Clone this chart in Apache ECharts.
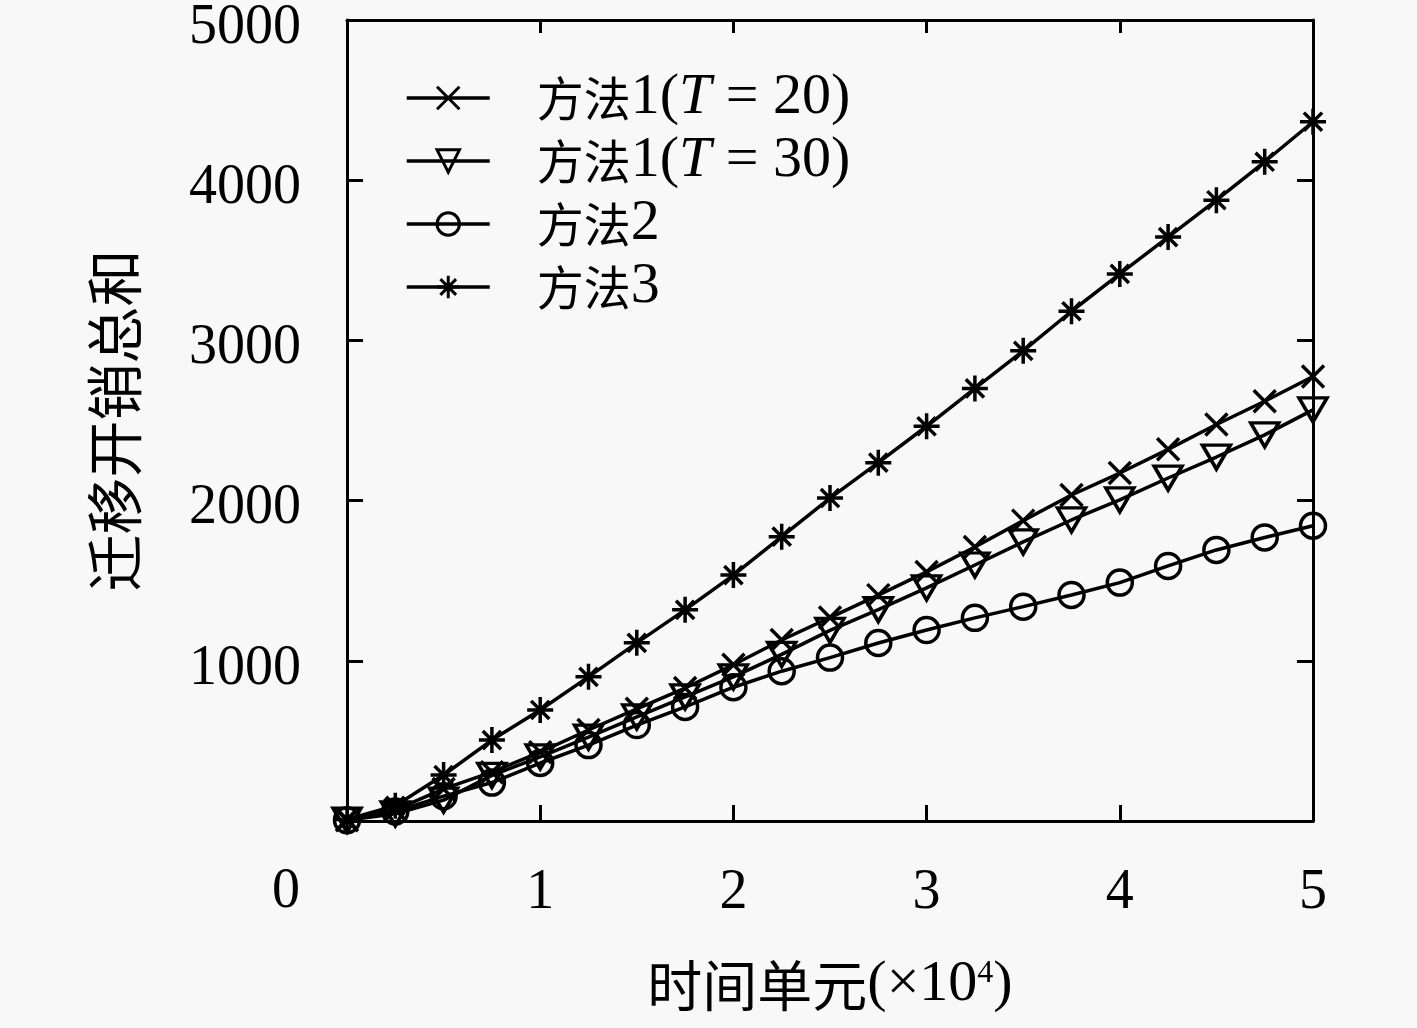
<!DOCTYPE html>
<html>
<head>
<meta charset="utf-8">
<script src="https://cdn.jsdelivr.net/npm/echarts@6/dist/echarts.min.js"></script>
<style>
  html, body { margin: 0; padding: 0; background: #f8f8f8; }
  #chart { width: 1417px; height: 1028px; }
</style>
</head>
<body>
<div id="chart"></div>
<script>
// x in units of 10^4 time units
const xValues = [0, 0.25, 0.5, 0.75, 1, 1.25, 1.5, 1.75, 2, 2.25, 2.5, 2.75, 3, 3.25, 3.5, 3.75, 4, 4.25, 4.5, 4.75, 5];
const method1T20 = [5, 70, 200, 305, 430, 568, 700, 830, 975, 1130, 1270, 1410, 1555, 1710, 1875, 2035, 2172, 2320, 2475, 2620, 2775];
const method1T30 = [5, 45, 130, 285, 400, 524, 650, 775, 900, 1040, 1190, 1320, 1455, 1598, 1742, 1879, 2004, 2141, 2272, 2410, 2566];
const method2 = [5, 60, 155, 240, 362, 474, 599, 712, 835, 935, 1020, 1111, 1192, 1268, 1338, 1411, 1488, 1592, 1692, 1770, 1843];
const method3 = [10, 95, 287, 505, 693, 900, 1112, 1318, 1535, 1775, 2016, 2237, 2464, 2700, 2935, 3182, 3415, 3645, 3875, 4115, 4365];
const seriesNames = ['方法1(T=20)', '方法1(T=30)', '方法2', '方法3'];

const FONT = "'Liberation Serif', 'Noto Sans CJK SC', serif";
const CJK = "'Noto Sans CJK SC', sans-serif";
const CROSS = 'path://M0,0 L10,10 M10,0 L0,10';
const STAR = 'path://M5,0 L5,10 M0,5 L10,5 M1.5,1.5 L8.5,8.5 M8.5,1.5 L1.5,8.5';
const TRI_DOWN = 'path://M0,0 L10,0 L5,8.7 Z';
const CIRCLE = 'path://M10,5 A5,5 0 1,1 0,5 A5,5 0 1,1 10,5 Z';

const chart = echarts.init(document.getElementById('chart'));

function makeSeries(name, values, symbol, size) {
  return {
    name: name,
    type: 'line',
    data: xValues.map((x, i) => [x, values[i]]),
    symbol: symbol,
    symbolSize: size,
    showAllSymbol: true,
    clip: false,
    lineStyle: { color: '#000', width: 3.5 },
    itemStyle: { color: 'rgba(0,0,0,0)', borderColor: '#000', borderWidth: 3.5 },
    emphasis: { disabled: true }
  };
}

// "方法1(T=20)" -> CJK part, roman digits, italic T
function legendLabel(name) {
  const m = name.match(/^(方法)(\d)(?:\(T=(\d+)\))?$/);
  if (!m) return name;
  let s = '{c|' + m[1] + '}{n|' + m[2] + '}';
  if (m[3]) s += '{n|(}{i|T}{n| = ' + m[3] + ')}';
  return s;
}

const axisLine = { onZero: false, lineStyle: { color: '#000', width: 3 } };
const tick = { inside: true, length: 16, lineStyle: { color: '#000', width: 3 } };

chart.setOption({
  backgroundColor: '#f8f8f8',
  animation: false,
  textStyle: { fontFamily: FONT, color: '#000' },
  grid: { left: 347, right: 104, top: 20, bottom: 207, containLabel: false, outerBoundsMode: 'none' },
  legend: {
    left: 400,
    top: 64,
    orient: 'vertical',
    itemWidth: 83,
    itemHeight: 28,
    itemGap: 5,
    data: seriesNames,
    lineStyle: { width: 3.5, color: '#000' },
    itemStyle: { borderWidth: 3 },
    formatter: legendLabel,
    textStyle: {
      fontFamily: FONT, fontSize: 50, color: '#000', lineHeight: 50,
      padding: [0, 0, 0, 42],
      rich: {
        c: { fontFamily: CJK, fontSize: 47, lineHeight: 50 },
        n: { fontFamily: FONT, fontSize: 58, lineHeight: 50 },
        i: { fontFamily: FONT, fontSize: 58, fontStyle: 'italic', lineHeight: 50 }
      }
    }
  },
  xAxis: [{
    type: 'value', min: 0, max: 5, interval: 1,
    name: '{c|时间单元}{n|(×10}{sup|4}{n|)}',
    nameLocation: 'middle', nameGap: 135,
    nameTextStyle: {
      fontFamily: FONT, fontSize: 54, color: '#000',
      rich: {
        c: { fontFamily: CJK, fontSize: 55 },
        n: { fontFamily: FONT, fontSize: 58 },
        sup: { fontFamily: FONT, fontSize: 32, verticalAlign: 'bottom', padding: [0, 0, 24, 0] }
      }
    },
    axisLine: axisLine,
    axisTick: tick,
    axisLabel: { fontFamily: FONT, fontSize: 56, color: '#000', margin: 44,
      formatter: v => (v === 0 ? '' : String(v)) },
    splitLine: { show: false }
  }, {
    type: 'value', min: 0, max: 5, interval: 1, position: 'top',
    axisLine: axisLine,
    axisTick: Object.assign({}, tick, { length: 13 }),
    axisLabel: { show: false },
    splitLine: { show: false }
  }],
  yAxis: [{
    type: 'value', min: 0, max: 5000, interval: 1000,
    name: '迁移开销总和',
    nameLocation: 'middle', nameGap: 204,
    nameTextStyle: { fontFamily: CJK, fontSize: 57, color: '#000' },
    axisLine: axisLine,
    axisTick: tick,
    axisLabel: { color: '#000', margin: 46,
      formatter: v => (v === 0 ? '' : '{v|' + v + '}'),
      rich: { v: { fontFamily: FONT, fontSize: 56, color: '#000', padding: [16, 0, 0, 0] } } },
    splitLine: { show: false }
  }, {
    type: 'value', min: 0, max: 5000, interval: 1000, position: 'right',
    axisLine: axisLine,
    axisTick: tick,
    axisLabel: { show: false },
    splitLine: { show: false }
  }],
  graphic: [{
    type: 'text', left: 272, top: 864,
    style: { text: '0', font: "56px 'Liberation Serif', serif", fill: '#000' }
  }],
  series: [
    makeSeries(seriesNames[0], method1T20, CROSS, 22),
    makeSeries(seriesNames[1], method1T30, TRI_DOWN, [28, 24]),
    makeSeries(seriesNames[2], method2, CIRCLE, 25),
    makeSeries(seriesNames[3], method3, STAR, 26)
  ]
});
</script>
</body>
</html>
